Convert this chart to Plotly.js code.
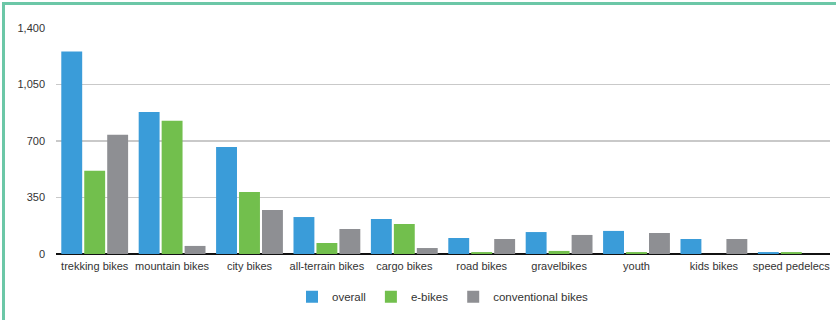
<!DOCTYPE html>
<html>
<head>
<meta charset="utf-8">
<script src="https://cdn.plot.ly/plotly-3.0.1.min.js"></script>
<style>
  html, body { margin: 0; padding: 0; background: #fff; }
  #wrap { position: relative; width: 836px; height: 320px; overflow: hidden; }
  #chart { position: absolute; left: 0; top: 0; width: 836px; height: 320px; }
  .edge { position: absolute; background: #6cc7a7; }
  #edgeTop { left: 2px; top: 2px; width: 834px; height: 3px; }
  #edgeLeft { left: 2px; top: 2px; width: 3px; height: 318px; }
</style>
</head>
<body>
<div id="wrap">
  <div id="chart"></div>
  <div class="edge" id="edgeTop"></div>
  <div class="edge" id="edgeLeft"></div>
</div>
<script>
// Bike types sold, by drive type
const categories = ['trekking bikes', 'mountain bikes', 'city bikes', 'all-terrain bikes', 'cargo bikes',
                    'road bikes', 'gravelbikes', 'youth', 'kids bikes', 'speed pedelecs'];
const overall      = [1255, 880, 663, 229, 217, 99, 136, 143, 93, 12];
const eBikes       = [515, 825, 384, 68, 186, 12, 19, 12, 0, 12];
const conventional = [738, 50, 273, 155, 37, 93, 118, 130, 93, 0];
const yTicks = [0, 350, 700, 1050, 1400];

const font = { family: 'Liberation Sans, Arial, Helvetica, sans-serif', size: 11, color: '#333333' };

const traces = [
  { name: 'overall', y: overall, color: '#3a9cd9' },
  { name: 'e-bikes', y: eBikes, color: '#72bf4d' },
  { name: 'conventional bikes', y: conventional, color: '#8e8f93' }
].map(s => ({
  type: 'bar',
  x: categories,
  y: s.y,
  name: s.name,
  marker: { color: s.color, line: { width: 0 } },
  hoverinfo: 'x+y+name'
}));

const layout = {
  width: 836,
  height: 320,
  margin: { l: 56, r: 6, t: 28, b: 66, autoexpand: false },
  paper_bgcolor: '#ffffff',
  plot_bgcolor: '#ffffff',
  font: font,
  barmode: 'group',
  bargap: 0.11,
  bargroupgap: 0.09,
  showlegend: true,
  legend: {
    orientation: 'h',
    x: 0.5,
    xanchor: 'center',
    y: -0.125,
    yanchor: 'top',
    font: { family: font.family, size: 11.5, color: '#333333' },
    itemwidth: 30,
    traceorder: 'normal'
  },
  xaxis: {
    type: 'category',
    showgrid: false,
    showline: false,
    zeroline: false,
    ticks: '',
    ticklabelstandoff: 4,
    tickfont: font,
    fixedrange: true
  },
  yaxis: {
    range: [0, 1400],
    tickvals: yTicks,
    tickformat: ',',
    showgrid: true,
    gridcolor: '#c9c9c9',
    gridwidth: 1.5,
    zeroline: true,
    zerolinecolor: '#111111',
    zerolinewidth: 1.5,
    showline: false,
    ticks: '',
    ticklabelstandoff: 10,
    tickfont: font,
    fixedrange: true
  }
};

Plotly.newPlot('chart', traces, layout, { displayModeBar: false, staticPlot: true });
</script>
</body>
</html>
